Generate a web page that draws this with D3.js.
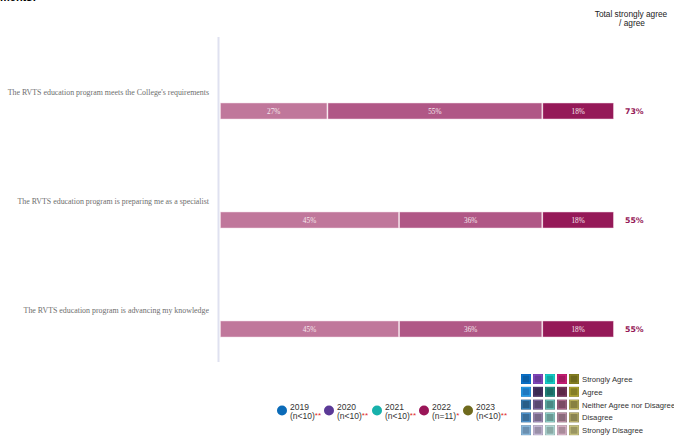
<!DOCTYPE html>
<html><head><meta charset="utf-8">
<script src="https://cdn.jsdelivr.net/npm/d3@7"></script>
<style>body{margin:0;background:#fff;}svg{display:block;}</style>
</head><body>
<svg id="c" width="674" height="438"></svg>
<script>
const questions = [
  "The RVTS education program meets the College's requirements",
  "The RVTS education program is preparing me as a specialist",
  "The RVTS education program is advancing my knowledge"
];
const segmentNames = ["Neither Agree nor Disagree", "Agree", "Strongly Agree"];
const neitherValues = [27.27, 45.45, 45.45];
const agreeValues = [54.55, 36.36, 36.36];
const stronglyAgreeValues = [18.18, 18.18, 18.18];
const totalValues = [73, 55, 55];
const segmentColors = ["#c0779b", "#b05786", "#951958"];
const years = ["2019", "2020", "2021", "2022", "2023"];
const yearNotes = ["(n<10)", "(n<10)", "(n<10)", "(n=11)", "(n<10)"];
const yearStars = ["**", "**", "**", "*", "**"];
const yearColors = ["#0b6bb8", "#5b3a97", "#17b1ab", "#9a1558", "#6f6a1d"];
const responseLevels = ["Strongly Agree", "Agree", "Neither Agree nor Disagree", "Disagree", "Strongly Disagree"];
const levelColors = [
  ["#0a5ea6", "#6a3a9a", "#12a7a2", "#a2195f", "#6e691d"],
  ["#1d78c1", "#3a2a52", "#1b6a64", "#5c2946", "#857e25"],
  ["#295e88", "#5a4a72", "#4a8984", "#7b4b63", "#878042"],
  ["#3b6e99", "#796a8a", "#6a9994", "#8a6b7b", "#8a8452"],
  ["#6a8fb0", "#9a90a8", "#8aaaa6", "#a98b9a", "#9a9662"]
];

const svg = d3.select("#c");
const rows = questions.map((q, i) => ({q, vals: [neitherValues[i], agreeValues[i], stronglyAgreeValues[i]], total: totalValues[i]}));

const x = d3.scaleLinear().domain([0, 100]).range([220, 614]);
const y = d3.scaleBand().domain(questions).range([56.5, 383.5]).paddingInner(0).paddingOuter(0);
const barH = 16;

// clipped title at the very top
svg.append("text").attr("x", 0).attr("y", 1).attr("font-family", "Arial, Liberation Sans, sans-serif")
  .attr("font-weight", "bold").attr("font-size", 11).attr("fill", "#000").text("ments:");

// header
const hdr = svg.append("text").attr("text-anchor", "middle").attr("font-family", "Arial, Liberation Sans, sans-serif")
  .attr("font-size", 8.3).attr("fill", "#222");
hdr.append("tspan").attr("x", 631).attr("y", 16.5).text("Total strongly agree");
hdr.append("tspan").attr("x", 632).attr("y", 25.5).text("/ agree");

// axis line
svg.append("line").attr("x1", 218.5).attr("x2", 218.5).attr("y1", 37).attr("y2", 362)
  .attr("stroke", "#dfe1f0").attr("stroke-width", 2);

rows.forEach((r, i) => {
  const yc = y(r.q) + y.bandwidth() / 2;
  const top = yc - barH / 2;
  svg.append("text").attr("x", 209).attr("y", top - 8).attr("text-anchor", "end")
    .attr("font-family", "Liberation Serif, Times New Roman, serif").attr("font-size", 7.9)
    .attr("fill", "#6e6e6e").text(r.q);
  let cum = 0;
  r.vals.forEach((v, j) => {
    const x0 = x(cum), x1 = x(cum + v);
    svg.append("rect").attr("x", x0 + 0.5).attr("y", top).attr("width", Math.max(0, x1 - x0 - 1)).attr("height", barH)
      .attr("fill", segmentColors[j]).attr("stroke", "#f3dbe6").attr("stroke-width", 0.5);
    svg.append("text").attr("x", (x0 + x1) / 2).attr("y", yc + 2.5).attr("text-anchor", "middle")
      .attr("font-family", "Liberation Serif, Times New Roman, serif").attr("font-size", 7.3)
      .attr("fill", "#f6e8ee").text(Math.round(v) + "%");
    cum += v;
  });
  svg.append("text").attr("x", 625).attr("y", yc + 3).attr("font-family", "Verdana, DejaVu Sans, sans-serif")
    .attr("font-weight", "bold").attr("font-size", 7.8).attr("fill", "#951958").text(r.total + "%");
});

// year legend
const lx = [282, 329, 377, 424, 468];
years.forEach((yr, i) => {
  svg.append("circle").attr("cx", lx[i]).attr("cy", 410.5).attr("r", 5).attr("fill", yearColors[i]);
  svg.append("text").attr("x", lx[i] + 8).attr("y", 410).attr("font-family", "Arial, Liberation Sans, sans-serif")
    .attr("font-size", 8.5).attr("fill", "#333").text(yr);
  const t = svg.append("text").attr("x", lx[i] + 8).attr("y", 418.5).attr("font-family", "Arial, Liberation Sans, sans-serif")
    .attr("font-size", 8.5).attr("fill", "#333");
  t.append("tspan").text(yearNotes[i]);
  t.append("tspan").attr("fill", "#e02a2a").attr("font-size", 8).attr("dy", -1).text(yearStars[i]);
});

// response legend grid
responseLevels.forEach((lv, r) => {
  const yy = 374 + r * 12.8;
  levelColors[r].forEach((c, k) => {
    const xx = 521 + k * 12;
    svg.append("rect").attr("x", xx).attr("y", yy).attr("width", 10).attr("height", 10).attr("fill", c);
    svg.append("rect").attr("x", xx + 1).attr("y", yy + 1).attr("width", 8).attr("height", 8)
      .attr("fill", "none").attr("stroke", d3.color(c).brighter(1.2)).attr("stroke-width", 0.8).attr("opacity", 0.8);
  });
  svg.append("text").attr("x", 582).attr("y", yy + 8).attr("font-family", "Arial, Liberation Sans, sans-serif")
    .attr("font-size", 7.7).attr("fill", "#333").text(lv);
});
</script>
</body></html>
